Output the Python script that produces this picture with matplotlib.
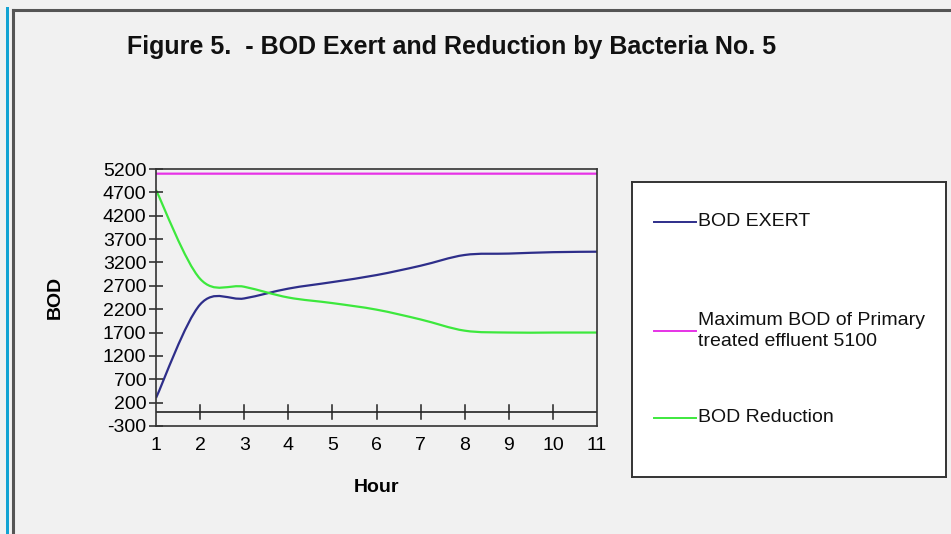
import matplotlib
matplotlib.use("Agg")
import matplotlib.pyplot as plt
from matplotlib.path import Path
from matplotlib.patches import PathPatch, Rectangle
from matplotlib.lines import Line2D

plt.rcParams['font.family'] = ['Liberation Sans', 'DejaVu Sans']

hours = [1, 2, 3, 4, 5, 6, 7, 8, 9, 10, 11]
bod_exert = [300, 2300, 2430, 2640, 2780, 2930, 3130, 3360, 3390, 3420, 3430]
bod_reduction = [4750, 2850, 2680, 2450, 2330, 2190, 1980, 1740, 1700, 1700, 1700]
max_bod = [5100] * len(hours)
y_ticks = list(range(-300, 5201, 500))

series = [
    ('BOD EXERT', bod_exert, '#2e2e8a'),
    ('Maximum BOD of Primary\ntreated effluent 5100', max_bod, '#e633e6'),
    ('BOD Reduction', bod_reduction, '#3de83d'),
]

BG = '#f1f1f1'


def smooth_path(xs, ys):
    # Excel-like smoothed line: cubic Bezier through each point
    pts = list(zip(xs, ys))
    n = len(pts)
    verts = [pts[0]]
    codes = [Path.MOVETO]
    for i in range(n - 1):
        p0 = pts[i - 1] if i > 0 else pts[i]
        p1 = pts[i]
        p2 = pts[i + 1]
        p3 = pts[i + 2] if i + 2 < n else pts[i + 1]
        c1 = (p1[0] + (p2[0] - p0[0]) / 6, p1[1] + (p2[1] - p0[1]) / 6)
        c2 = (p2[0] - (p3[0] - p1[0]) / 6, p2[1] - (p3[1] - p1[1]) / 6)
        verts += [c1, c2, p2]
        codes += [Path.CURVE4] * 3
    return Path(verts, codes)


fig = plt.figure(figsize=(9.51, 5.34), dpi=100, facecolor=BG)

# window frame
fig.add_artist(Rectangle((6 / 951, 0), 3 / 951, 1 - 7 / 534, transform=fig.transFigure,
                         facecolor='#13a3d3', edgecolor='none'))
fig.add_artist(Line2D([12.5 / 951, 12.5 / 951], [0, 1 - 10 / 534], transform=fig.transFigure,
                      color='#555555', lw=2.2))
fig.add_artist(Line2D([12.5 / 951, 1], [1 - 10 / 534, 1 - 10 / 534], transform=fig.transFigure,
                      color='#555555', lw=2.2))

fig.text(127 / 951, 1 - 47 / 534, 'Figure 5.  - BOD Exert and Reduction by Bacteria No. 5',
         fontsize=18, fontweight='bold', va='center', ha='left', color='#111111')

ax = fig.add_axes([156 / 951, 1 - 426 / 534, 441 / 951, 257 / 534])
ax.set_facecolor(BG)
for name, vals, color in series:
    ax.add_patch(PathPatch(smooth_path(hours, vals), facecolor='none', edgecolor=color, lw=1.6))

ax.set_xlim(1, 11)
ax.set_ylim(-300, 5200)
ax.axhline(0, color='#222222', lw=1.2)
for s in ax.spines.values():
    s.set_color('#333333')
    s.set_linewidth(1.2)

ax.set_yticks(y_ticks)
ax.set_yticklabels([str(v) for v in y_ticks], fontsize=14)
ax.tick_params(axis='y', direction='inout', length=10, width=1.1, pad=2, color='#222222')
ax.set_xticks(hours)
ax.set_xticklabels([str(h) for h in hours], fontsize=14)
ax.tick_params(axis='x', length=0, pad=8)
# tick marks sit on the zero line
for h in hours[1:-1]:
    ax.plot([h, h], [-150, 150], color='#222222', lw=1.1)

ax.set_ylabel('BOD', fontsize=14, fontweight='bold', labelpad=28)
ax.set_xlabel('Hour', fontsize=14, fontweight='bold', labelpad=18)

# legend panel
lax = fig.add_axes([632 / 951, 1 - 477 / 534, 314 / 951, 295 / 534])
lax.set_facecolor('white')
lax.set_xlim(0, 314)
lax.set_ylim(295, 0)
lax.set_xticks([])
lax.set_yticks([])
for s in lax.spines.values():
    s.set_color('#333333')
    s.set_linewidth(1.4)
for (name, vals, color), y in zip(series, [40, 149, 236]):
    lax.plot([22, 64], [y, y], color=color, lw=1.4)
    lax.text(66, y, name, fontsize=14, va='center', ha='left', linespacing=1.25, color='#111111')

fig.savefig('out.png', dpi=100, facecolor=BG)
